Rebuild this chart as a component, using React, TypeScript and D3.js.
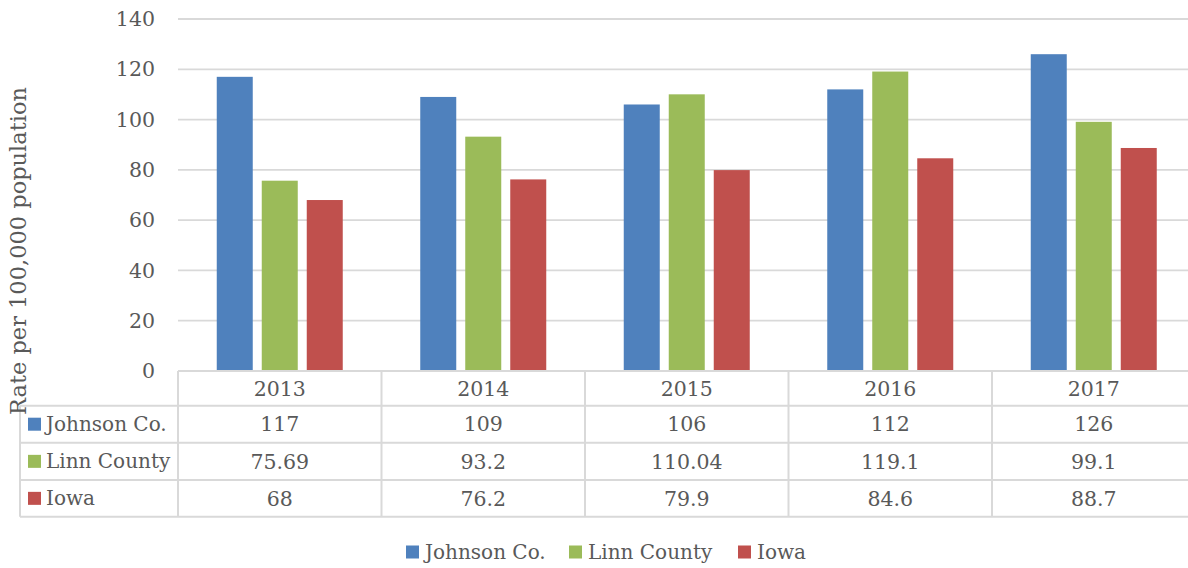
import React from "react";
import * as d3 from "d3";

const years = ["2013", "2014", "2015", "2016", "2017"];
const seriesNames = ["Johnson Co.", "Linn County", "Iowa"];
const johnson = [117, 109, 106, 112, 126];
const linn = [75.69, 93.2, 110.04, 119.1, 99.1];
const iowa = [68, 76.2, 79.9, 84.6, 88.7];
const labels = [
  ["117", "109", "106", "112", "126"],
  ["75.69", "93.2", "110.04", "119.1", "99.1"],
  ["68", "76.2", "79.9", "84.6", "88.7"],
];
const colors = ["#4F81BD", "#9BBB59", "#C0504D"];
const yTicks = [0, 20, 40, 60, 80, 100, 120, 140];

const W = 1188;
const H = 568;
const FONT = "'DejaVu Serif', serif";
const TXT = "#595959";
const GRID = "#D9D9D9";

export default function App() {
  const values = [johnson, linn, iowa];
  const x = d3.scaleBand<string>().domain(years).range([178, 1195.5]);
  const step = x.bandwidth();
  const y = d3.scaleLinear().domain([0, 140]).range([371, 19]);
  const inner = d3
    .scaleBand<string>()
    .domain(seriesNames)
    .range([0, 126])
    .paddingInner(0.2);
  const groupOffset = (step - 126) / 2;
  const rowY = [371, 405.7, 442.7, 480, 516.7];
  const right = 1195.5;

  return (
    <svg
      width={W}
      height={H}
      style={{ position: "absolute", left: 0, top: 0, background: "#fff" }}
      fontFamily={FONT}
    >
      {/* gridlines */}
      {yTicks.map((t) => (
        <line
          key={t}
          x1={178}
          x2={right}
          y1={y(t)}
          y2={y(t)}
          stroke={GRID}
          strokeWidth={1.8}
        />
      ))}
      {/* tick labels */}
      {yTicks.map((t) => (
        <text
          key={"l" + t}
          x={155}
          y={y(t)}
          dy="0.35em"
          textAnchor="end"
          fontSize={20.5}
          fill={TXT}
        >
          {t}
        </text>
      ))}
      {/* bars */}
      {years.map((yr, i) =>
        seriesNames.map((s, j) => {
          const v = values[j][i];
          const bx = (x(yr) as number) + groupOffset + (inner(s) as number);
          return (
            <rect
              key={yr + s}
              x={bx}
              y={y(v)}
              width={inner.bandwidth()}
              height={y(0) - y(v)}
              fill={colors[j]}
            />
          );
        })
      )}
      {/* table lines */}
      <line x1={178} x2={right} y1={rowY[0]} y2={rowY[0]} stroke={GRID} strokeWidth={2} />
      {rowY.slice(1).map((ry, k) => (
        <line key={"h" + k} x1={20} x2={right} y1={ry} y2={ry} stroke={GRID} strokeWidth={2} />
      ))}
      <line x1={20} x2={20} y1={rowY[1]} y2={rowY[4]} stroke={GRID} strokeWidth={2} />
      {years.concat(["end"]).map((yr, k) => {
        const vx = 178 + k * step;
        return (
          <line key={"v" + k} x1={vx} x2={vx} y1={rowY[0]} y2={rowY[4]} stroke={GRID} strokeWidth={2} />
        );
      })}
      {/* header */}
      {years.map((yr) => (
        <text
          key={"hd" + yr}
          x={(x(yr) as number) + step / 2}
          y={(rowY[0] + rowY[1]) / 2}
          dy="0.35em"
          textAnchor="middle"
          fontSize={20.5}
          fill={TXT}
        >
          {yr}
        </text>
      ))}
      {/* rows */}
      {seriesNames.map((s, j) => {
        const cy = (rowY[j + 1] + rowY[j + 2]) / 2;
        return (
          <g key={"row" + s}>
            <rect x={28} y={cy - 6.5} width={13} height={13} fill={colors[j]} />
            <text x={46} y={cy} dy="0.35em" fontSize={20} fill={TXT}>
              {s}
            </text>
            {years.map((yr, i) => (
              <text
                key={yr}
                x={(x(yr) as number) + step / 2}
                y={cy}
                dy="0.35em"
                textAnchor="middle"
                fontSize={20.5}
                fill={TXT}
              >
                {labels[j][i]}
              </text>
            ))}
          </g>
        );
      })}
      {/* y label */}
      <text
        transform={`translate(18, 251) rotate(-90)`}
        textAnchor="middle"
        dy="0.35em"
        fontSize={22.5}
        fill={TXT}
      >
        Rate per 100,000 population
      </text>
      {/* legend */}
      {[
        { x: 406, tx: 425 },
        { x: 569, tx: 588 },
        { x: 738, tx: 757 },
      ].map((p, j) => (
        <g key={"lg" + j}>
          <rect x={p.x} y={545.5} width={13} height={13} fill={colors[j]} />
          <text x={p.tx} y={552} dy="0.35em" fontSize={20} fill={TXT}>
            {seriesNames[j]}
          </text>
        </g>
      ))}
    </svg>
  );
}
